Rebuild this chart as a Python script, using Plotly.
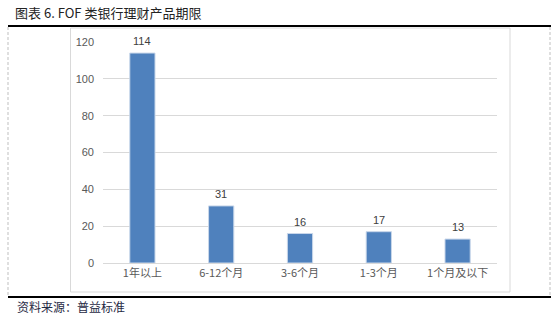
import plotly.graph_objects as go

categories = ["1年以上", "6-12个月", "3-6个月", "1-3个月", "1个月及以下"]
values = [114, 31, 16, 17, 13]
y_ticks = [0, 20, 40, 60, 80, 100, 120]

W, H = 560, 317
L, R, T, B = 103, 63, 42, 54
PW, PH = W - L - R, H - T - B

def px(x):
    return (x - L) / PW

def py(y):
    return (H - B - y) / PH

fig = go.Figure()
fig.add_trace(go.Bar(
    x=categories, y=values,
    marker=dict(color="#4F81BD", line=dict(color="#C9D7EA", width=1)),
))

shapes = [
    dict(type="line", xref="paper", yref="paper", x0=px(8), x1=px(551), y0=py(26), y1=py(26),
         line=dict(color="#000000", width=2)),
    dict(type="line", xref="paper", yref="paper", x0=px(8), x1=px(551), y0=py(297), y1=py(297),
         line=dict(color="#000000", width=2)),
    dict(type="line", xref="paper", yref="paper", x0=px(8), x1=px(8), y0=py(27), y1=py(296),
         line=dict(color="#BFBFBF", width=1, dash="3px,2px")),
    dict(type="line", xref="paper", yref="paper", x0=px(550), x1=px(550), y0=py(27), y1=py(296),
         line=dict(color="#BFBFBF", width=1, dash="3px,2px")),
    dict(type="rect", xref="paper", yref="paper", x0=px(70.5), x1=px(510), y0=py(28), y1=py(292),
         line=dict(color="#D9D9D9", width=1), layer="below"),
]

annotations = [
    dict(text="图表 6. FOF 类银行理财产品期限", xref="paper", yref="paper", x=px(13), y=py(12),
         xanchor="left", yanchor="middle", showarrow=False,
         font=dict(family="Noto Sans CJK SC", size=13, color="#222222")),
    dict(text="资料来源：普益标准", xref="paper", yref="paper", x=px(15), y=py(306),
         xanchor="left", yanchor="middle", showarrow=False,
         font=dict(family="Noto Sans CJK SC", size=12, color="#1F2A44")),
]
for c, v in zip(categories, values):
    annotations.append(dict(
        text=str(v), x=c, y=v, xref="x", yref="y", yanchor="middle", yshift=12,
        showarrow=False,
        font=dict(family="Liberation Sans, Arial", size=11, color="#404040"),
    ))

fig.update_layout(
    width=W, height=H,
    margin=dict(l=L, r=R, t=T, b=B),
    paper_bgcolor="white", plot_bgcolor="white",
    bargap=0.68,
    showlegend=False,
    shapes=shapes,
    annotations=annotations,
    xaxis=dict(
        showline=True, linecolor="#D9D9D9", linewidth=1,
        ticks="", tickfont=dict(family="Noto Sans CJK SC", size=11, color="#595959"),
        showgrid=False,
    ),
    yaxis=dict(
        range=[0, 120], tickvals=y_ticks,
        showgrid=True, gridcolor="#D9D9D9", gridwidth=1,
        zeroline=False, showline=False, ticks="",
        ticklabelstandoff=8,
        tickfont=dict(family="Liberation Sans, Arial", size=11, color="#595959"),
    ),
)

fig.write_html("out.html")
